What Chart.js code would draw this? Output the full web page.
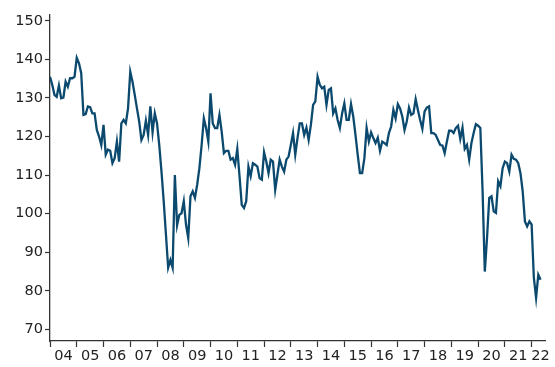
<!DOCTYPE html>
<html>
<head>
<meta charset="utf-8">
<script src="https://cdn.jsdelivr.net/npm/chart.js@4/dist/chart.umd.min.js"></script>
<style>
  html, body { margin: 0; padding: 0; background: #fff; }
</style>
</head>
<body>
<canvas id="lineChart" width="555" height="367"></canvas>
<script>
// monthly index values, Jan 2004 .. May 2022
var v2004 = [135.5, 133.4, 130.8, 130.3, 133.2, 129.9, 130.1, 134.2, 132.9, 135.1, 135.1, 135.5];
var v2005 = [140.4, 139.0, 136.4, 125.6, 125.8, 127.8, 127.6, 126.0, 126.0, 121.7, 120.0, 117.8];
var v2006 = [123.0, 115.3, 116.6, 116.3, 113.1, 114.4, 118.7, 113.5, 123.4, 124.3, 123.4, 127.3];
var v2007 = [136.8, 134.2, 130.8, 127.3, 123.9, 119.1, 120.4, 124.1, 120.4, 127.8, 121.1, 126.0];
var v2008 = [123.4, 117.8, 110.9, 103.2, 94.6, 86.0, 88.0, 86.0, 110.0, 97.0, 99.7, 100.1];
var v2009 = [103.2, 97.2, 93.7, 104.5, 105.8, 104.1, 107.5, 111.8, 117.8, 124.7, 122.2, 118.7];
var v2010 = [131.2, 123.4, 122.2, 122.2, 125.6, 121.3, 115.7, 116.3, 116.3, 114.0, 114.4, 112.7];
var v2011 = [116.8, 109.7, 102.3, 101.5, 103.2, 112.2, 109.7, 113.1, 112.7, 112.2, 109.2, 108.8];
var v2012 = [115.9, 113.5, 110.5, 114.0, 113.5, 106.2, 110.1, 114.0, 112.2, 110.9, 114.0, 114.8];
var v2013 = [117.8, 120.9, 115.3, 119.6, 123.4, 123.4, 120.4, 122.3, 119.1, 123.0, 128.2, 129.1];
var v2014 = [135.5, 133.4, 132.5, 132.9, 128.2, 132.1, 132.5, 126.0, 127.3, 124.3, 122.2, 126.0];
var v2015 = [128.6, 124.3, 124.3, 128.4, 125.2, 120.4, 115.3, 110.5, 110.5, 114.4, 122.2, 118.7];
var v2016 = [121.1, 119.6, 118.3, 119.7, 116.3, 118.7, 118.3, 117.8, 120.9, 122.6, 126.9, 124.7];
var v2017 = [128.4, 127.3, 125.2, 121.7, 123.9, 127.5, 125.6, 126.0, 129.7, 126.9, 124.3, 122.0];
var v2018 = [126.5, 127.5, 127.8, 120.9, 120.9, 120.4, 119.1, 117.8, 117.7, 115.7, 118.7, 121.5];
var v2019 = [121.5, 120.9, 122.2, 122.8, 119.4, 122.3, 116.8, 117.8, 114.0, 118.3, 120.9, 123.2];
var v2020 = [122.8, 122.2, 106.0, 85.0, 93.7, 104.1, 104.5, 100.6, 100.2, 108.4, 107.1, 111.8];
var v2021 = [113.5, 113.1, 110.9, 115.3, 114.2, 114.0, 113.1, 110.5, 105.8, 98.0, 96.7, 98.0];
var v2022 = [97.2, 83.4, 78.2, 84.2, 82.9];

var yearLabels = ['04', '05', '06', '07', '08', '09', '10', '11', '12', '13',
                  '14', '15', '16', '17', '18', '19', '20', '21', '22'];
var yTicks = [70, 80, 90, 100, 110, 120, 130, 140, 150];

var values = [].concat(v2004, v2005, v2006, v2007, v2008, v2009, v2010, v2011,
    v2012, v2013, v2014, v2015, v2016, v2017, v2018, v2019, v2020, v2021, v2022);

var points = values.map(function (y, i) { return { x: i, y: y }; });

// year boundaries get a tick mark, year middles get the label
var labelPos = {};
yearLabels.forEach(function (lab, i) {
    var p = i < yearLabels.length - 1 ? i * 12 + 6 : i * 12 + 4;
    labelPos[p] = lab;
});

var axisColor = '#333333';
var textColor = '#222222';
var font = { family: 'DejaVu Sans', size: 14.5 };

var ctx = document.getElementById('lineChart').getContext('2d');
var lineChart = new Chart(ctx, {
    type: 'line',
    data: {
        datasets: [{
            data: points,
            borderColor: '#0b4a6e',
            borderWidth: 2.3,
            pointRadius: 0,
            tension: 0,
            fill: false
        }]
    },
    options: {
        responsive: false,
        animation: false,
        layout: { padding: { top: 15, right: 10, bottom: 0, left: 0 } },
        plugins: { legend: { display: false }, tooltip: { enabled: false } },
        scales: {
            x: {
                type: 'linear',
                min: 0,
                max: 222,
                afterBuildTicks: function (scale) {
                    var t = [];
                    for (var i = 0; i < yearLabels.length; i++) {
                        t.push({ value: i * 12 });
                    }
                    Object.keys(labelPos).forEach(function (k) { t.push({ value: +k }); });
                    t.sort(function (a, b) { return a.value - b.value; });
                    scale.ticks = t;
                },
                afterFit: function (scale) { scale.height = 26; },
                grid: {
                    drawOnChartArea: false,
                    tickLength: 6,
                    tickWidth: 1.2,
                    tickColor: function (c) {
                        return (c.tick && c.tick.value % 12 === 0) ? axisColor : 'rgba(0,0,0,0)';
                    }
                },
                border: { display: true, color: axisColor, width: 1.3 },
                ticks: {
                    autoSkip: false,
                    maxRotation: 0,
                    padding: 1,
                    color: textColor,
                    font: font,
                    callback: function (value) { return labelPos[value] || ''; }
                }
            },
            y: {
                min: 67,
                max: 151.5,
                afterBuildTicks: function (scale) {
                    scale.ticks = yTicks.map(function (v) { return { value: v }; });
                },
                afterFit: function (scale) { scale.width = 50; },
                grid: { drawOnChartArea: false, tickLength: 5, tickWidth: 1.2, tickColor: axisColor },
                border: { display: true, color: axisColor, width: 1.3 },
                ticks: { padding: 2, color: textColor, font: font }
            }
        }
    }
});
</script>
</body>
</html>
